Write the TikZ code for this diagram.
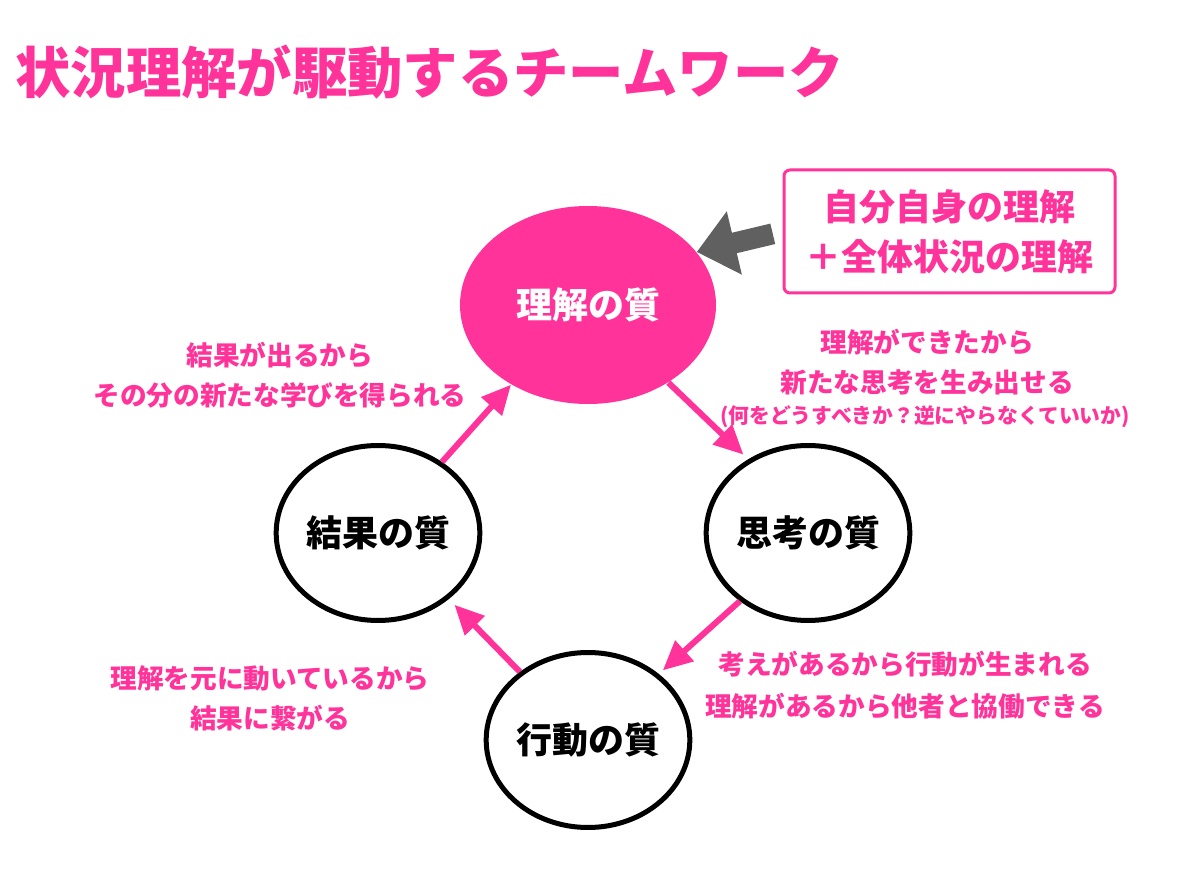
\documentclass[tikz,border=0pt]{standalone}
\usepackage{fontspec}
\setmainfont{Noto Sans CJK JP}
\usetikzlibrary{arrows.meta,shapes.geometric}

\definecolor{mcPink}{RGB}{255,51,153}
\definecolor{mcGray}{RGB}{96,96,96}

\tikzset{every picture/.style={line width=0.75pt}}
\tikzset{
	quality/.style={ellipse, draw=black, line width=3.75pt, fill=white, inner sep=0pt,
		minimum width=138.75pt, minimum height=131.25pt,
		font=\fontsize{27pt}{32pt}\selectfont\bfseries},
	flow/.style={draw=mcPink, line width=4.5pt, -{Triangle[length=22pt,width=20pt]}},
	remark/.style={text=mcPink, align=center, inner sep=0pt,
		font=\fontsize{20pt}{30pt}\selectfont\bfseries}}

\begin{document}
\begin{tikzpicture}[x=0.75pt,y=0.75pt,yscale=-1,xscale=1]
	\path (0,0) rectangle (1200,887); %set diagram size

	% Text Node
	\node [anchor=west, inner sep=0pt, text=mcPink, font=\fontsize{41.5pt}{48pt}\selectfont\bfseries] (title) at (15,72) {状況理解が駆動するチームワーク};

	%Shape: Ellipse
	\node [ellipse, fill=mcPink, inner sep=0pt, minimum width=192pt, minimum height=148.5pt, text=white, font=\fontsize{27pt}{32pt}\selectfont\bfseries] (und) at (588,305) {理解の質};
	%Shape: Circle
	\node [quality] (res) at (378,533) {結果の質};
	%Shape: Circle
	\node [quality] (thk) at (808,533) {思考の質};
	%Shape: Circle
	\node [quality] (act) at (588,740) {行動の質};

	%Shape: Rectangle
	\node [draw=mcPink, line width=2.25pt, rounded corners=4.5pt, fill=white, minimum width=248.25pt, minimum height=92.25pt, align=center, text=mcPink, font=\fontsize{27pt}{37.5pt}\selectfont\bfseries] (box) at (949.5,231.5) {自分自身の理解\\＋全体状況の理解};

	%Right Arrow
	\draw [draw=mcGray, line width=15.75pt, -{Triangle[length=29pt,width=47pt]}, shorten <=7.5pt] (box.west) -- (und.26);

	% Arrows
	\draw [flow] (res.48) -- (und.226);
	\draw [flow, shorten >=5pt] (und.316) -- (thk.129);
	\draw [flow, shorten >=4pt] (thk.225) -- (act.43);
	\draw [flow, shorten >=6pt] (act.135) -- (res.317);

	% Text Node
	\node [remark] (txtRes) at (280,375) {結果が出るから\\その分の新たな学びを得られる};
	% Text Node
	\node [remark] (txtUnd) at (927,362) {理解ができたから\\新たな思考を生み出せる};
	% Text Node
	\node [remark, font=\fontsize{15.6pt}{20pt}\selectfont\bfseries] (txtSub) at (925,417) {(何をどうすべきか？逆にやらなくていいか)};
	% Text Node
	\node [remark, font=\fontsize{20pt}{31.5pt}\selectfont\bfseries] (txtThk) at (905,685) {考えがあるから行動が生まれる\\理解があるから他者と協働できる};
	% Text Node
	\node [remark] (txtAct) at (270,698) {理解を元に動いているから\\結果に繋がる};

\end{tikzpicture}
\end{document}
